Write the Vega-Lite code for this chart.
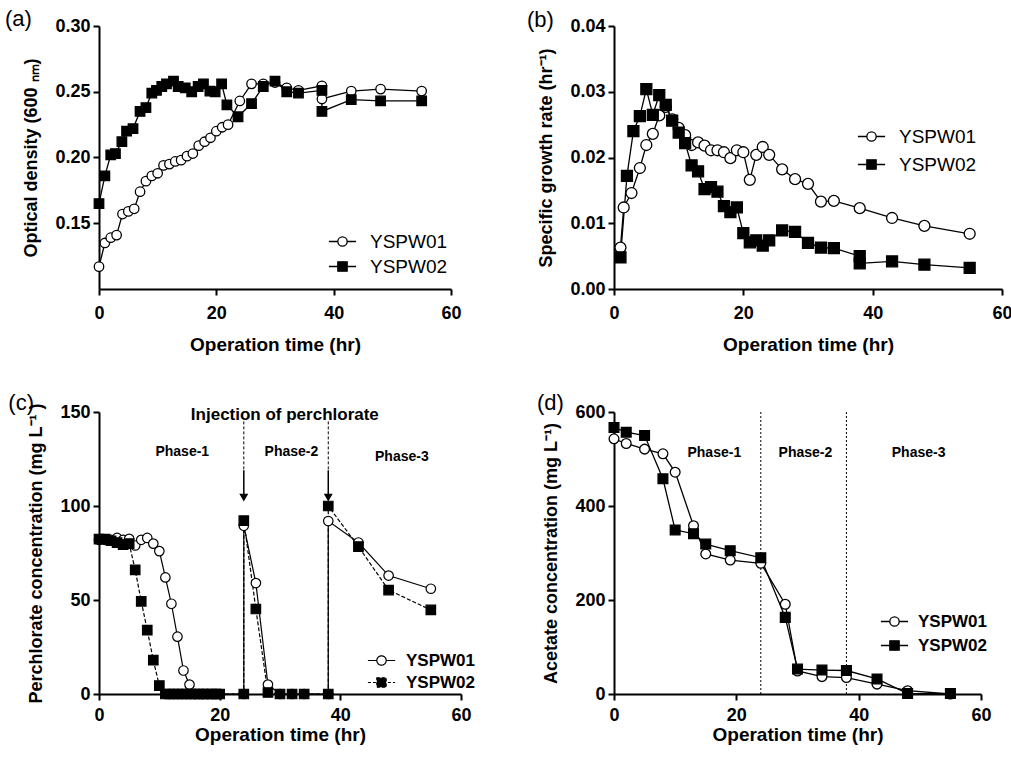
{
  "$schema": "https://vega.github.io/schema/vega-lite/v6.json",
  "padding": {"left": 5, "top": 8, "right": 5, "bottom": 5},
  "background": "white",
  "config": {
    "font": "Liberation Sans",
    "view": {"stroke": null},
    "axis": {"domainColor": "black", "domainWidth": 2, "tickColor": "black", "tickWidth": 2, "tickSize": 6, "labelFontSize": 18, "labelFontWeight": "bold", "labelColor": "black", "titleFontSize": 18, "titleFontWeight": "bold", "titleColor": "black", "grid": false, "labelFont": "Liberation Sans", "titleFont": "Liberation Sans"},
    "axisX": {"labelPadding": 9, "titlePadding": 13, "titleFontSize": 19, "labelFlush": false},
    "axisY": {"labelPadding": 3, "titlePadding": 14},
    "legend": {"padding": 0, "labelColor": "black", "labelFont": "Liberation Sans"}
  },
  "datasets": {
    "a": [
      {"t": 0, "v": 0.117, "s": "YSPW01"}, {"t": 1, "v": 0.135, "s": "YSPW01"}, {"t": 2, "v": 0.139, "s": "YSPW01"}, {"t": 3, "v": 0.141, "s": "YSPW01"}, {"t": 4, "v": 0.157, "s": "YSPW01"}, {"t": 5, "v": 0.159, "s": "YSPW01"}, {"t": 6, "v": 0.161, "s": "YSPW01"}, {"t": 7, "v": 0.174, "s": "YSPW01"}, {"t": 8, "v": 0.182, "s": "YSPW01"}, {"t": 9, "v": 0.186, "s": "YSPW01"}, {"t": 10, "v": 0.188, "s": "YSPW01"}, {"t": 11, "v": 0.194, "s": "YSPW01"}, {"t": 12, "v": 0.195, "s": "YSPW01"}, {"t": 13, "v": 0.197, "s": "YSPW01"}, {"t": 14, "v": 0.198, "s": "YSPW01"}, {"t": 15, "v": 0.201, "s": "YSPW01"}, {"t": 16, "v": 0.203, "s": "YSPW01"}, {"t": 17, "v": 0.209, "s": "YSPW01"}, {"t": 18, "v": 0.212, "s": "YSPW01"}, {"t": 19, "v": 0.215, "s": "YSPW01"}, {"t": 20, "v": 0.22, "s": "YSPW01"}, {"t": 21, "v": 0.223, "s": "YSPW01"}, {"t": 22, "v": 0.225, "s": "YSPW01"}, {"t": 24, "v": 0.243, "s": "YSPW01"}, {"t": 26, "v": 0.256, "s": "YSPW01"}, {"t": 28, "v": 0.256, "s": "YSPW01"}, {"t": 30, "v": 0.257, "s": "YSPW01"}, {"t": 32, "v": 0.253, "s": "YSPW01"}, {"t": 34, "v": 0.251, "s": "YSPW01"}, {"t": 38, "v": 0.2545, "s": "YSPW01"}, {"t": 38, "v": 0.2445, "s": "YSPW01"}, {"t": 43, "v": 0.2505, "s": "YSPW01"}, {"t": 48, "v": 0.252, "s": "YSPW01"}, {"t": 55, "v": 0.2505, "s": "YSPW01"},
      {"t": 0, "v": 0.165, "s": "YSPW02"}, {"t": 1, "v": 0.186, "s": "YSPW02"}, {"t": 2, "v": 0.202, "s": "YSPW02"}, {"t": 2.8, "v": 0.203, "s": "YSPW02"}, {"t": 3.9, "v": 0.212, "s": "YSPW02"}, {"t": 4.7, "v": 0.22, "s": "YSPW02"}, {"t": 5.8, "v": 0.222, "s": "YSPW02"}, {"t": 7, "v": 0.235, "s": "YSPW02"}, {"t": 8, "v": 0.238, "s": "YSPW02"}, {"t": 9, "v": 0.249, "s": "YSPW02"}, {"t": 9.8, "v": 0.251, "s": "YSPW02"}, {"t": 10.7, "v": 0.254, "s": "YSPW02"}, {"t": 11.5, "v": 0.256, "s": "YSPW02"}, {"t": 12.7, "v": 0.258, "s": "YSPW02"}, {"t": 13.5, "v": 0.254, "s": "YSPW02"}, {"t": 14.7, "v": 0.253, "s": "YSPW02"}, {"t": 15.8, "v": 0.25, "s": "YSPW02"}, {"t": 16.9, "v": 0.254, "s": "YSPW02"}, {"t": 17.8, "v": 0.256, "s": "YSPW02"}, {"t": 18.9, "v": 0.2505, "s": "YSPW02"}, {"t": 19.8, "v": 0.25, "s": "YSPW02"}, {"t": 20.9, "v": 0.256, "s": "YSPW02"}, {"t": 21.8, "v": 0.24, "s": "YSPW02"}, {"t": 23.7, "v": 0.231, "s": "YSPW02"}, {"t": 26, "v": 0.241, "s": "YSPW02"}, {"t": 28, "v": 0.254, "s": "YSPW02"}, {"t": 30, "v": 0.258, "s": "YSPW02"}, {"t": 32, "v": 0.25, "s": "YSPW02"}, {"t": 34, "v": 0.249, "s": "YSPW02"}, {"t": 38, "v": 0.251, "s": "YSPW02"}, {"t": 38, "v": 0.235, "s": "YSPW02"}, {"t": 43, "v": 0.244, "s": "YSPW02"}, {"t": 48, "v": 0.243, "s": "YSPW02"}, {"t": 55, "v": 0.243, "s": "YSPW02"}
    ],
    "b": [
      {"t": 1, "v": 0.0063, "s": "YSPW01"}, {"t": 1.5, "v": 0.0124, "s": "YSPW01"}, {"t": 2.7, "v": 0.0146, "s": "YSPW01"}, {"t": 4, "v": 0.0184, "s": "YSPW01"}, {"t": 5, "v": 0.0219, "s": "YSPW01"}, {"t": 6, "v": 0.0236, "s": "YSPW01"}, {"t": 7, "v": 0.0264, "s": "YSPW01"}, {"t": 8, "v": 0.0277, "s": "YSPW01"}, {"t": 9, "v": 0.0258, "s": "YSPW01"}, {"t": 10, "v": 0.0245, "s": "YSPW01"}, {"t": 11, "v": 0.0234, "s": "YSPW01"}, {"t": 12, "v": 0.0219, "s": "YSPW01"}, {"t": 13, "v": 0.0223, "s": "YSPW01"}, {"t": 14, "v": 0.0218, "s": "YSPW01"}, {"t": 15, "v": 0.0211, "s": "YSPW01"}, {"t": 16, "v": 0.0211, "s": "YSPW01"}, {"t": 17, "v": 0.0208, "s": "YSPW01"}, {"t": 18, "v": 0.0199, "s": "YSPW01"}, {"t": 19, "v": 0.0211, "s": "YSPW01"}, {"t": 20, "v": 0.0208, "s": "YSPW01"}, {"t": 21, "v": 0.0166, "s": "YSPW01"}, {"t": 22, "v": 0.0204, "s": "YSPW01"}, {"t": 23, "v": 0.0216, "s": "YSPW01"}, {"t": 24, "v": 0.0204, "s": "YSPW01"}, {"t": 26, "v": 0.0182, "s": "YSPW01"}, {"t": 28, "v": 0.0167, "s": "YSPW01"}, {"t": 30, "v": 0.016, "s": "YSPW01"}, {"t": 32, "v": 0.0133, "s": "YSPW01"}, {"t": 34, "v": 0.0134, "s": "YSPW01"}, {"t": 38, "v": 0.0123, "s": "YSPW01"}, {"t": 43, "v": 0.0108, "s": "YSPW01"}, {"t": 48, "v": 0.0096, "s": "YSPW01"}, {"t": 55, "v": 0.0084, "s": "YSPW01"},
      {"t": 1, "v": 0.0048, "s": "YSPW02"}, {"t": 2, "v": 0.0172, "s": "YSPW02"}, {"t": 3, "v": 0.024, "s": "YSPW02"}, {"t": 4, "v": 0.0263, "s": "YSPW02"}, {"t": 5, "v": 0.0304, "s": "YSPW02"}, {"t": 6, "v": 0.0265, "s": "YSPW02"}, {"t": 7, "v": 0.0295, "s": "YSPW02"}, {"t": 8, "v": 0.028, "s": "YSPW02"}, {"t": 9, "v": 0.0256, "s": "YSPW02"}, {"t": 10, "v": 0.0238, "s": "YSPW02"}, {"t": 11, "v": 0.0222, "s": "YSPW02"}, {"t": 12, "v": 0.0188, "s": "YSPW02"}, {"t": 13, "v": 0.0179, "s": "YSPW02"}, {"t": 14, "v": 0.0152, "s": "YSPW02"}, {"t": 15, "v": 0.0155, "s": "YSPW02"}, {"t": 16, "v": 0.0148, "s": "YSPW02"}, {"t": 17, "v": 0.0126, "s": "YSPW02"}, {"t": 18, "v": 0.0117, "s": "YSPW02"}, {"t": 19, "v": 0.0124, "s": "YSPW02"}, {"t": 20, "v": 0.0085, "s": "YSPW02"}, {"t": 21, "v": 0.0071, "s": "YSPW02"}, {"t": 22, "v": 0.0074, "s": "YSPW02"}, {"t": 23, "v": 0.0066, "s": "YSPW02"}, {"t": 24, "v": 0.0074, "s": "YSPW02"}, {"t": 26, "v": 0.0089, "s": "YSPW02"}, {"t": 28, "v": 0.0087, "s": "YSPW02"}, {"t": 30, "v": 0.007, "s": "YSPW02"}, {"t": 32, "v": 0.0063, "s": "YSPW02"}, {"t": 34, "v": 0.0062, "s": "YSPW02"}, {"t": 38, "v": 0.005, "s": "YSPW02"}, {"t": 38, "v": 0.0039, "s": "YSPW02"}, {"t": 43, "v": 0.0042, "s": "YSPW02"}, {"t": 48, "v": 0.0037, "s": "YSPW02"}, {"t": 55, "v": 0.0032, "s": "YSPW02"}
    ],
    "c": [
      {"t": 0, "v": 82, "s": "YSPW01"}, {"t": 1, "v": 82, "s": "YSPW01"}, {"t": 2, "v": 82, "s": "YSPW01"}, {"t": 3, "v": 83, "s": "YSPW01"}, {"t": 4, "v": 82, "s": "YSPW01"}, {"t": 5, "v": 82.5, "s": "YSPW01"}, {"t": 6, "v": 79, "s": "YSPW01"}, {"t": 7, "v": 82, "s": "YSPW01"}, {"t": 8, "v": 83, "s": "YSPW01"}, {"t": 9, "v": 80, "s": "YSPW01"}, {"t": 10, "v": 76, "s": "YSPW01"}, {"t": 11, "v": 62, "s": "YSPW01"}, {"t": 12, "v": 48, "s": "YSPW01"}, {"t": 13, "v": 30.5, "s": "YSPW01"}, {"t": 14, "v": 12.5, "s": "YSPW01"}, {"t": 15, "v": 5, "s": "YSPW01"}, {"t": 16, "v": 0, "s": "YSPW01"}, {"t": 17, "v": 0, "s": "YSPW01"}, {"t": 18, "v": 0, "s": "YSPW01"}, {"t": 19, "v": 0, "s": "YSPW01"}, {"t": 20, "v": 0, "s": "YSPW01"}, {"t": 24, "v": 0, "s": "YSPW01"}, {"t": 24, "v": 89.5, "s": "YSPW01"}, {"t": 26, "v": 59, "s": "YSPW01"}, {"t": 28, "v": 5, "s": "YSPW01"}, {"t": 30, "v": 0, "s": "YSPW01"}, {"t": 32, "v": 0, "s": "YSPW01"}, {"t": 34, "v": 0, "s": "YSPW01"}, {"t": 38, "v": 0, "s": "YSPW01"}, {"t": 38, "v": 92, "s": "YSPW01"}, {"t": 43, "v": 80.6, "s": "YSPW01"}, {"t": 48, "v": 63, "s": "YSPW01"}, {"t": 55, "v": 56, "s": "YSPW01"},
      {"t": 0, "v": 82.4, "s": "YSPW02"}, {"t": 1, "v": 82.4, "s": "YSPW02"}, {"t": 2, "v": 81.5, "s": "YSPW02"}, {"t": 3, "v": 80.5, "s": "YSPW02"}, {"t": 4, "v": 79.5, "s": "YSPW02"}, {"t": 5, "v": 80, "s": "YSPW02"}, {"t": 6, "v": 66, "s": "YSPW02"}, {"t": 7, "v": 49.3, "s": "YSPW02"}, {"t": 8, "v": 34, "s": "YSPW02"}, {"t": 9, "v": 18, "s": "YSPW02"}, {"t": 10, "v": 4.5, "s": "YSPW02"}, {"t": 11, "v": 0, "s": "YSPW02"}, {"t": 11.7, "v": 0, "s": "YSPW02"}, {"t": 12.4, "v": 0, "s": "YSPW02"}, {"t": 13.1, "v": 0, "s": "YSPW02"}, {"t": 13.8, "v": 0, "s": "YSPW02"}, {"t": 14.5, "v": 0, "s": "YSPW02"}, {"t": 15.2, "v": 0, "s": "YSPW02"}, {"t": 15.9, "v": 0, "s": "YSPW02"}, {"t": 16.6, "v": 0, "s": "YSPW02"}, {"t": 17.3, "v": 0, "s": "YSPW02"}, {"t": 18, "v": 0, "s": "YSPW02"}, {"t": 18.7, "v": 0, "s": "YSPW02"}, {"t": 19.4, "v": 0, "s": "YSPW02"}, {"t": 20, "v": 0, "s": "YSPW02"}, {"t": 24, "v": 0, "s": "YSPW02"}, {"t": 24, "v": 92.2, "s": "YSPW02"}, {"t": 26, "v": 45.2, "s": "YSPW02"}, {"t": 28, "v": 0.8, "s": "YSPW02"}, {"t": 30, "v": 0, "s": "YSPW02"}, {"t": 32, "v": 0, "s": "YSPW02"}, {"t": 34, "v": 0, "s": "YSPW02"}, {"t": 38, "v": 0, "s": "YSPW02"}, {"t": 38, "v": 100, "s": "YSPW02"}, {"t": 43, "v": 78.4, "s": "YSPW02"}, {"t": 48, "v": 55.3, "s": "YSPW02"}, {"t": 55, "v": 44.7, "s": "YSPW02"}
    ],
    "d": [
      {"t": 0, "v": 543, "s": "YSPW01"}, {"t": 2, "v": 533, "s": "YSPW01"}, {"t": 5, "v": 521, "s": "YSPW01"}, {"t": 8, "v": 511, "s": "YSPW01"}, {"t": 10, "v": 472, "s": "YSPW01"}, {"t": 13, "v": 358, "s": "YSPW01"}, {"t": 15, "v": 298, "s": "YSPW01"}, {"t": 19, "v": 285, "s": "YSPW01"}, {"t": 24, "v": 278, "s": "YSPW01"}, {"t": 28, "v": 191, "s": "YSPW01"}, {"t": 30, "v": 49, "s": "YSPW01"}, {"t": 34, "v": 37, "s": "YSPW01"}, {"t": 38, "v": 35, "s": "YSPW01"}, {"t": 43, "v": 21, "s": "YSPW01"}, {"t": 48, "v": 7, "s": "YSPW01"}, {"t": 55, "v": 0, "s": "YSPW01"},
      {"t": 0, "v": 567, "s": "YSPW02"}, {"t": 2, "v": 557, "s": "YSPW02"}, {"t": 5, "v": 550, "s": "YSPW02"}, {"t": 8, "v": 458, "s": "YSPW02"}, {"t": 10, "v": 349, "s": "YSPW02"}, {"t": 13, "v": 341, "s": "YSPW02"}, {"t": 15, "v": 319, "s": "YSPW02"}, {"t": 19, "v": 305, "s": "YSPW02"}, {"t": 24, "v": 290, "s": "YSPW02"}, {"t": 28, "v": 163, "s": "YSPW02"}, {"t": 30, "v": 53, "s": "YSPW02"}, {"t": 34, "v": 51, "s": "YSPW02"}, {"t": 38, "v": 50, "s": "YSPW02"}, {"t": 43, "v": 32, "s": "YSPW02"}, {"t": 48, "v": 1, "s": "YSPW02"}, {"t": 55, "v": 1, "s": "YSPW02"}
    ]
  },
  "columns": 2,
  "bounds": "flush",
  "spacing": {"row": 123, "column": 153},
  "resolve": {
    "scale": {"fill": "independent"},
    "legend": {"fill": "independent"}
  },
  "concat": [
    {
      "width": 352, "height": 263,
      "data": {"name": "a"},
      "encoding": {
        "x": {"field": "t", "type": "quantitative", "scale": {"domain": [0, 60], "nice": false}, "axis": {"values": [0, 20, 40, 60], "title": "Operation time (hr)"}},
        "y": {"field": "v", "type": "quantitative", "scale": {"domain": [0.1, 0.3], "nice": false, "zero": false}, "axis": {"values": [0.15, 0.2, 0.25, 0.3], "format": ".2f", "title": "Optical density (600 ₙₘ)"}},
        "fill": {"field": "s", "type": "nominal", "scale": {"domain": ["YSPW01", "YSPW02"], "range": ["white", "black"]},
          "legend": {"title": null, "orient": "none", "legendX": 234, "legendY": 206, "labelFontSize": 19, "labelFontWeight": "normal", "symbolType": "circle", "symbolSize": 289, "rowPadding": 5, "labelOffset": 18,
            "encoding": {"symbols": {
              "shape": {"condition": {"test": "datum.value === 'YSPW01'", "value": "M-1.6,0H-0.55M0.55,0H1.6M0.55,0A0.55,0.55 0 1 1 -0.55,0A0.55,0.55 0 1 1 0.55,0Z"}, "value": "M-1.6,0H1.6M-0.55,-0.55H0.55V0.55H-0.55Z"},
              "stroke": {"value": "black"}, "strokeWidth": {"value": 1.3}, "opacity": {"value": 1}}}}}
      },
      "layer": [
        {"mark": {"type": "line", "color": "black", "strokeWidth": 1.3}, "encoding": {"fill": null, "detail": {"field": "s"}, "order": {"value": null}}},
        {"transform": [{"filter": "datum.s === 'YSPW01'"}], "mark": {"type": "point", "shape": "circle", "filled": true, "stroke": "black", "strokeWidth": 1.3, "size": 90, "opacity": 1}},
        {"transform": [{"filter": "datum.s === 'YSPW02'"}], "mark": {"type": "point", "shape": "square", "filled": true, "stroke": "black", "strokeWidth": 1.3, "size": 90, "opacity": 1}},
        {"data": {"values": [{"label": "(a)", "t": -16.02, "v": 0.3129}]}, "mark": {"type": "text", "align": "left", "baseline": "top", "fontSize": 22, "color": "black"}, "encoding": {"fill": null, "text": {"field": "label"}}}
      ]
    },
    {
      "width": 388, "height": 263,
      "data": {"name": "b"},
      "encoding": {
        "x": {"field": "t", "type": "quantitative", "scale": {"domain": [0, 60], "nice": false}, "axis": {"values": [0, 20, 40, 60], "title": "Operation time (hr)"}},
        "y": {"field": "v", "type": "quantitative", "scale": {"domain": [0, 0.04], "nice": false}, "axis": {"values": [0, 0.01, 0.02, 0.03, 0.04], "format": ".2f", "title": "Specific growth rate (hr⁻¹)"}},
        "fill": {"field": "s", "type": "nominal", "scale": {"domain": ["YSPW01", "YSPW02"], "range": ["white", "black"]},
          "legend": {"title": null, "orient": "none", "legendX": 248, "legendY": 101, "labelFontSize": 19, "labelFontWeight": "normal", "symbolType": "circle", "symbolSize": 289, "rowPadding": 8, "labelOffset": 18,
            "encoding": {"symbols": {
              "shape": {"condition": {"test": "datum.value === 'YSPW01'", "value": "M-1.6,0H-0.55M0.55,0H1.6M0.55,0A0.55,0.55 0 1 1 -0.55,0A0.55,0.55 0 1 1 0.55,0Z"}, "value": "M-1.6,0H1.6M-0.55,-0.55H0.55V0.55H-0.55Z"},
              "stroke": {"value": "black"}, "strokeWidth": {"value": 1.3}, "opacity": {"value": 1}}}}}
      },
      "layer": [
        {"mark": {"type": "line", "color": "black", "strokeWidth": 1.3}, "encoding": {"fill": null, "detail": {"field": "s"}, "order": {"value": null}}},
        {"transform": [{"filter": "datum.s === 'YSPW01'"}], "mark": {"type": "point", "shape": "circle", "filled": true, "stroke": "black", "strokeWidth": 1.3, "size": 120, "opacity": 1}},
        {"transform": [{"filter": "datum.s === 'YSPW02'"}], "mark": {"type": "point", "shape": "square", "filled": true, "stroke": "black", "strokeWidth": 1.3, "size": 120, "opacity": 1}},
        {"data": {"values": [{"label": "(b)", "t": -13.45, "v": 0.0424}]}, "mark": {"type": "text", "align": "left", "baseline": "top", "fontSize": 22, "color": "black"}, "encoding": {"fill": null, "text": {"field": "label"}}}
      ]
    },
    {
      "width": 362, "height": 282,
      "data": {"name": "c"},
      "encoding": {
        "x": {"field": "t", "type": "quantitative", "scale": {"domain": [0, 60], "nice": false}, "axis": {"values": [0, 20, 40, 60], "title": "Operation time (hr)", "labelPadding": 6, "titlePadding": 1}},
        "y": {"field": "v", "type": "quantitative", "scale": {"domain": [0, 150], "nice": false}, "axis": {"values": [0, 50, 100, 150], "title": "Perchlorate concentration (mg L⁻¹ )"}}
      },
      "layer": [
        {"transform": [{"filter": "datum.s === 'YSPW01'"}], "mark": {"type": "line", "color": "black", "strokeWidth": 1.2}, "encoding": {"order": {"value": null}}},
        {"transform": [{"filter": "datum.s === 'YSPW02'"}], "mark": {"type": "line", "color": "black", "strokeWidth": 1.2, "strokeDash": [4, 2]}, "encoding": {"order": {"value": null}}},
        {"data": {"values": [{"t": 24, "v": 145, "v2": 119}, {"t": 38, "v": 145, "v2": 119}]}, "mark": {"type": "rule", "color": "black", "strokeWidth": 1, "strokeDash": [3, 2]}, "encoding": {"y2": {"field": "v2"}}},
        {"data": {"values": [{"t": 24, "v": 119, "v2": 106}, {"t": 38, "v": 119, "v2": 106}]}, "mark": {"type": "rule", "color": "black", "strokeWidth": 1.5}, "encoding": {"y2": {"field": "v2"}}},
        {"data": {"values": [{"t": 24, "v": 104.5}, {"t": 38, "v": 104.5}]}, "mark": {"type": "point", "shape": "triangle-down", "filled": true, "color": "black", "size": 80, "opacity": 1}},
        {"transform": [{"filter": "datum.s === 'YSPW01'"}], "mark": {"type": "point", "shape": "circle", "filled": true, "stroke": "black", "strokeWidth": 1.2, "size": 90, "opacity": 1},
         "encoding": {"fill": {"field": "s", "type": "nominal", "scale": {"domain": ["YSPW01", "YSPW02"], "range": ["white", "black"]},
            "legend": {"title": null, "orient": "none", "legendX": 273, "legendY": 239, "labelFontSize": 17, "labelFontWeight": "bold", "symbolType": "circle", "symbolSize": 289, "rowPadding": 4, "labelOffset": 15,
              "encoding": {"symbols": {
                "shape": {"condition": {"test": "datum.value === 'YSPW01'", "value": "M-1.6,0H-0.55M0.55,0H1.6M0.55,0A0.55,0.55 0 1 1 -0.55,0A0.55,0.55 0 1 1 0.55,0Z"}, "value": "M-1.6,0H1.6M-0.55,-0.55H0.55V0.55H-0.55Z"},
                "strokeDash": {"condition": {"test": "datum.value === 'YSPW02'", "value": [3, 2]}, "value": [1, 0]},
                "stroke": {"value": "black"}, "strokeWidth": {"value": 1.2}, "opacity": {"value": 1}}}}}}},
        {"transform": [{"filter": "datum.s === 'YSPW02'"}], "mark": {"type": "point", "shape": "square", "filled": true, "stroke": "black", "strokeWidth": 1.2, "size": 90, "opacity": 1},
         "encoding": {"fill": {"field": "s", "type": "nominal", "scale": {"domain": ["YSPW01", "YSPW02"], "range": ["white", "black"]}}}},
        {"data": {"values": [{"label": "(c)", "t": -15.03, "v": 160}]}, "mark": {"type": "text", "align": "left", "baseline": "top", "fontSize": 22, "color": "black"}, "encoding": {"text": {"field": "label"}}},
        {"data": {"values": [{"label": "Injection of perchlorate", "t": 30.8, "v": 148.5}]}, "mark": {"type": "text", "align": "center", "baseline": "middle", "fontSize": 17, "fontWeight": "bold", "color": "black"}, "encoding": {"text": {"field": "label"}}},
        {"data": {"values": [{"label": "Phase-1", "t": 13.8, "v": 128.5}, {"label": "Phase-2", "t": 31.9, "v": 128.5}, {"label": "Phase-3", "t": 50.2, "v": 126.2}]}, "mark": {"type": "text", "align": "center", "baseline": "middle", "fontSize": 14, "fontWeight": "bold", "color": "black"}, "encoding": {"text": {"field": "label"}}}
      ]
    },
    {
      "width": 367, "height": 282,
      "data": {"name": "d"},
      "encoding": {
        "x": {"field": "t", "type": "quantitative", "scale": {"domain": [0, 60], "nice": false}, "axis": {"values": [0, 20, 40, 60], "title": "Operation time (hr)", "labelPadding": 6, "titlePadding": 1}},
        "y": {"field": "v", "type": "quantitative", "scale": {"domain": [0, 600], "nice": false}, "axis": {"values": [0, 200, 400, 600], "title": "Acetate concentration (mg L⁻¹)"}}
      },
      "layer": [
        {"data": {"values": [{"t": 24, "v": 0, "v2": 600}, {"t": 38, "v": 0, "v2": 600}]}, "mark": {"type": "rule", "color": "black", "strokeWidth": 1, "strokeDash": [2, 2]}, "encoding": {"y2": {"field": "v2"}}},
        {"mark": {"type": "line", "color": "black", "strokeWidth": 1.3}, "encoding": {"detail": {"field": "s"}, "order": {"value": null}}},
        {"transform": [{"filter": "datum.s === 'YSPW01'"}], "mark": {"type": "point", "shape": "circle", "filled": true, "stroke": "black", "strokeWidth": 1.3, "size": 95, "opacity": 1},
         "encoding": {"fill": {"field": "s", "type": "nominal", "scale": {"domain": ["YSPW01", "YSPW02"], "range": ["white", "black"]},
            "legend": {"title": null, "orient": "none", "legendX": 271, "legendY": 200, "labelFontSize": 17, "labelFontWeight": "bold", "symbolType": "circle", "symbolSize": 289, "rowPadding": 6, "labelOffset": 14,
              "encoding": {"symbols": {
                "shape": {"condition": {"test": "datum.value === 'YSPW01'", "value": "M-1.6,0H-0.55M0.55,0H1.6M0.55,0A0.55,0.55 0 1 1 -0.55,0A0.55,0.55 0 1 1 0.55,0Z"}, "value": "M-1.6,0H1.6M-0.55,-0.55H0.55V0.55H-0.55Z"},
                "stroke": {"value": "black"}, "strokeWidth": {"value": 1.3}, "opacity": {"value": 1}}}}}}},
        {"transform": [{"filter": "datum.s === 'YSPW02'"}], "mark": {"type": "point", "shape": "square", "filled": true, "stroke": "black", "strokeWidth": 1.3, "size": 95, "opacity": 1},
         "encoding": {"fill": {"field": "s", "type": "nominal", "scale": {"domain": ["YSPW01", "YSPW02"], "range": ["white", "black"]}}}},
        {"data": {"values": [{"label": "(d)", "t": -12.6, "v": 640}]}, "mark": {"type": "text", "align": "left", "baseline": "top", "fontSize": 22, "color": "black"}, "encoding": {"text": {"field": "label"}}},
        {"data": {"values": [{"label": "Phase-1", "t": 16.4, "v": 513}, {"label": "Phase-2", "t": 31.3, "v": 513}, {"label": "Phase-3", "t": 49.8, "v": 513}]}, "mark": {"type": "text", "align": "center", "baseline": "middle", "fontSize": 14, "fontWeight": "bold", "color": "black"}, "encoding": {"text": {"field": "label"}}}
      ]
    }
  ]
}
